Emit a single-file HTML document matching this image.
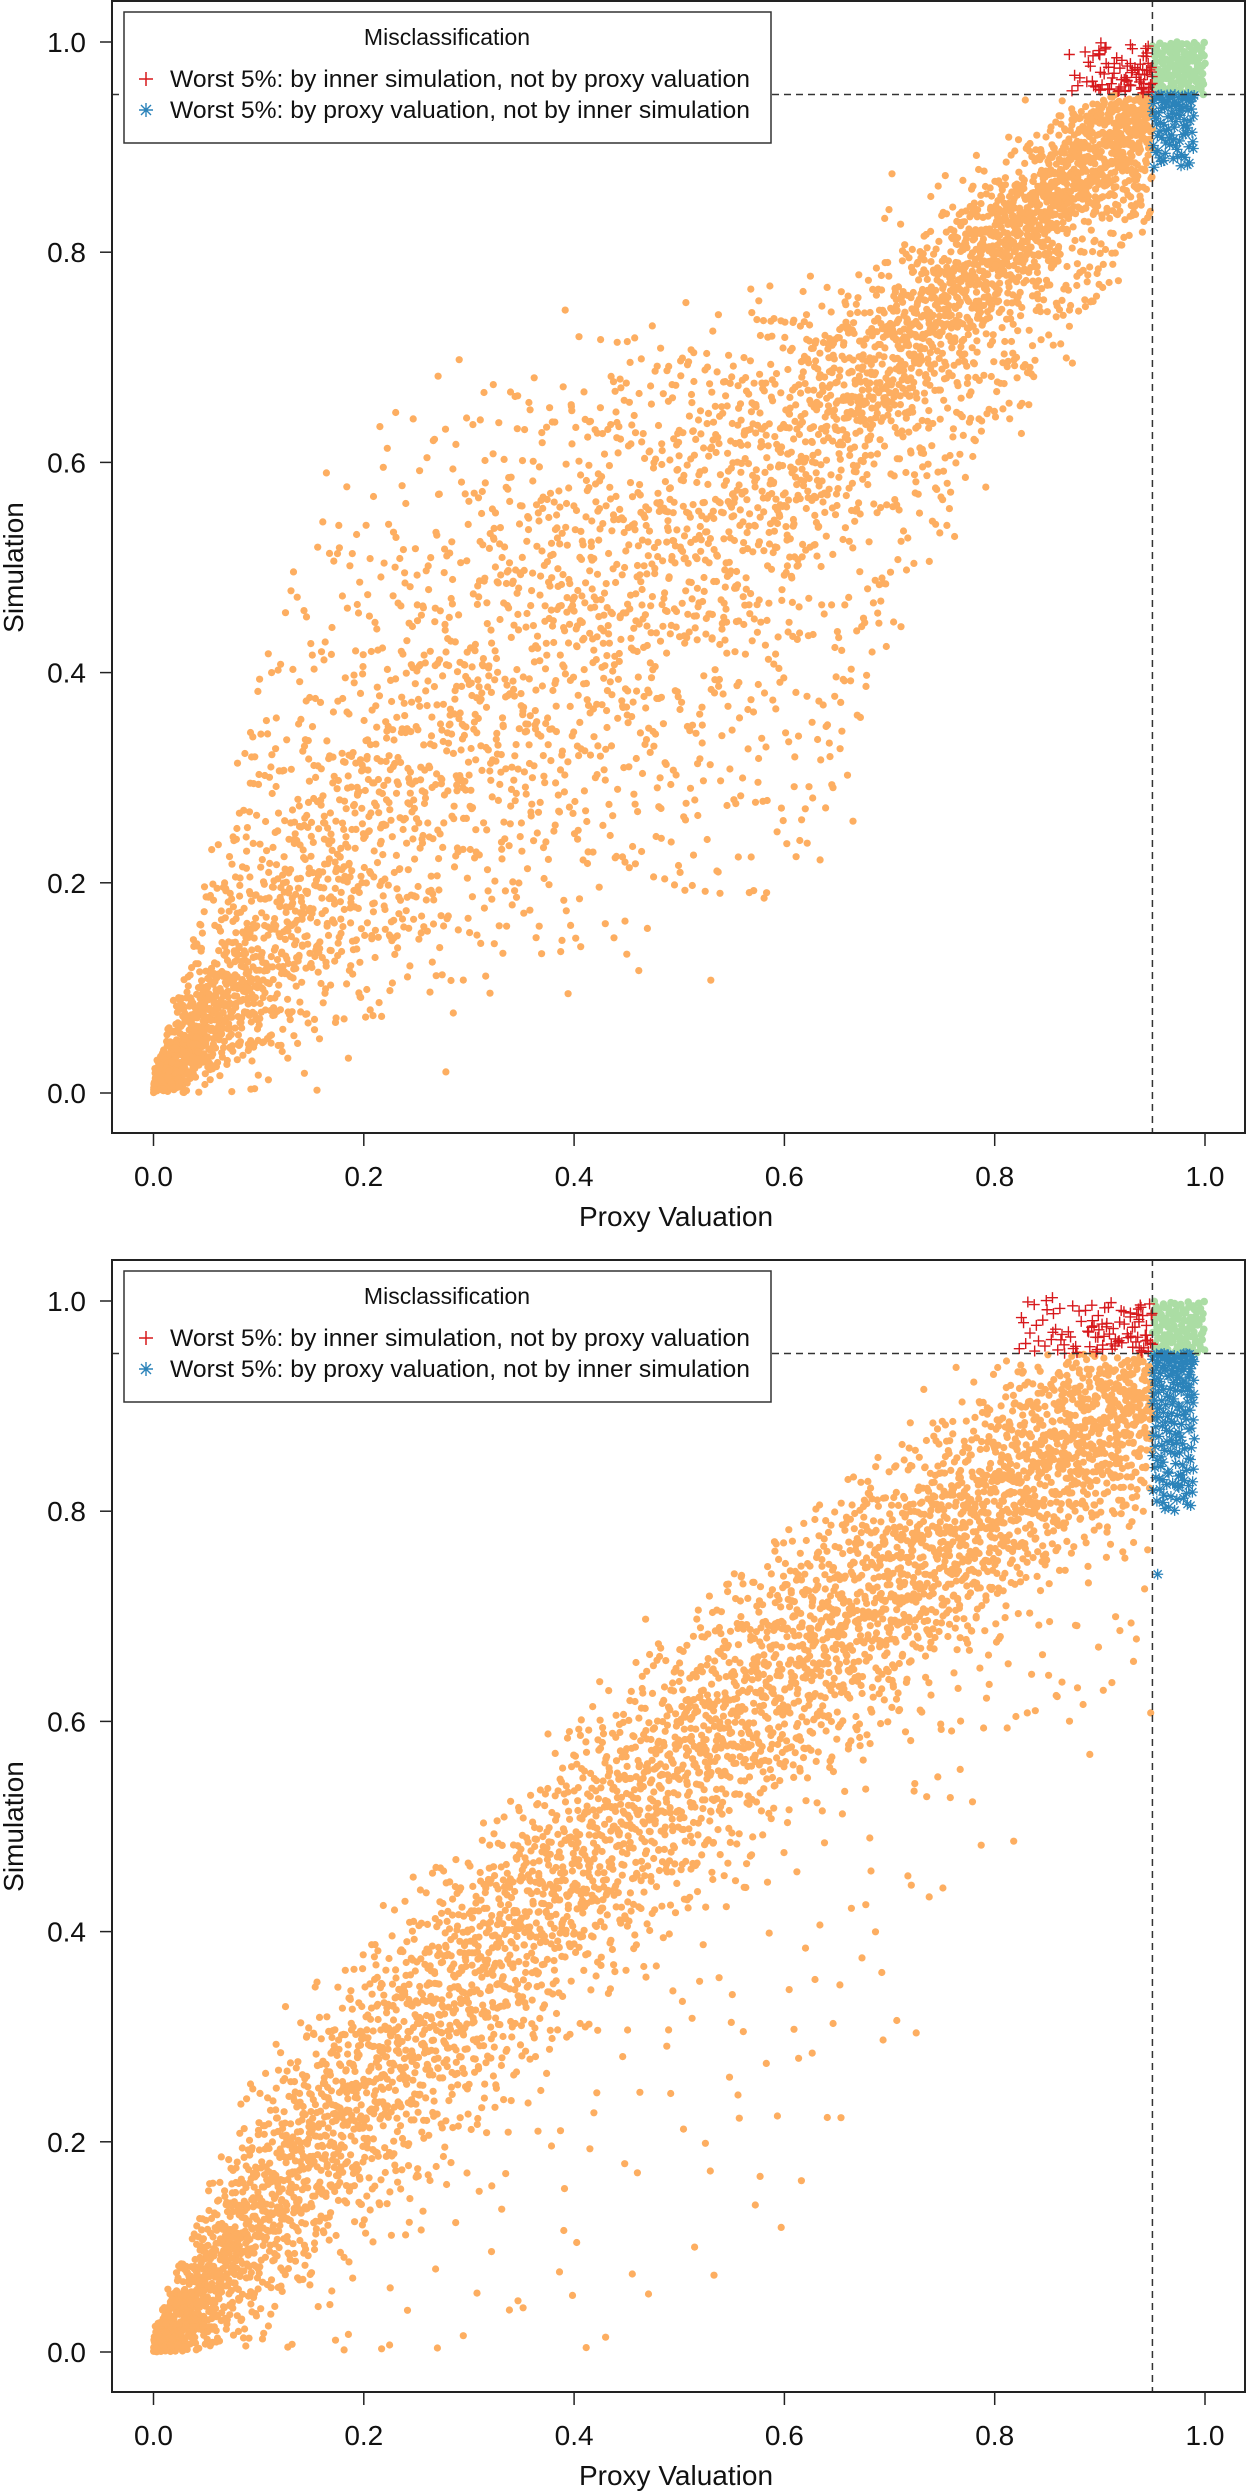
<!DOCTYPE html>
<html><head><meta charset="utf-8"><style>
html,body{margin:0;padding:0;background:#fff;}
svg{display:block;font-family:"Liberation Sans",Arial,sans-serif;}
</style></head><body>
<svg id="fig" width="1247" height="2492" viewBox="0 0 1247 2492" xmlns="http://www.w3.org/2000/svg">
<rect x="0" y="0" width="1247" height="2492" fill="#fff"/>
</svg>
<script>
// ---- Plot 1 data: knots along proxy valuation at 0,0.05,...,0.95 ----
const p1KnotLo  = [0,.01,.03,.05,.07,.09,.11,.12,.13,.15,.17,.19,.20,.25,.45,.55,.62,.70,.76,.84];
const p1KnotHi  = [.02,.18,.38,.52,.60,.64,.66,.68,.70,.71,.72,.73,.74,.76,.80,.84,.88,.92,.97,.99];
const p1KnotMid = [0,.06,.12,.18,.24,.30,.36,.41,.45,.49,.53,.57,.61,.65,.70,.75,.80,.85,.90,.93];
const p1KnotSd  = [.005,.03,.05,.07,.09,.10,.11,.12,.12,.12,.11,.10,.08,.06,.045,.04,.035,.03,.03,.03];
const p1BandN   = [420,330,250,220,200,190,190,190,200,200,210,220,240,260,300,330,360,380,380];
const p1TailX   = [[.95,1.0],[.95,.99],[.87,.95]];
const p1TailY   = [[.95,1.0],[.88,.95],[.95,1.0]];
const p1TailN   = [140,90,30];
const p1Extra   = [];
// ---- Plot 2 data ----
const p2KnotLo  = [0,0,0,0,.01,.02,.02,.03,.04,.05,.06,.08,.12,.20,.30,.40,.50,.55,.58,.60];
const p2KnotHi  = [.03,.15,.28,.35,.40,.45,.50,.55,.60,.65,.70,.74,.78,.82,.86,.90,.94,.97,.99,1.0];
const p2KnotMid = [0,.06,.13,.19,.25,.30,.35,.40,.46,.51,.56,.60,.65,.69,.73,.77,.81,.85,.88,.91];
const p2KnotSd  = [.01,.035,.05,.06,.065,.07,.07,.07,.07,.07,.07,.07,.07,.07,.065,.06,.06,.055,.05,.05];
const p2BandN   = [380,330,280,260,250,240,240,240,240,240,250,250,260,260,270,280,290,300,300];
const p2TailX   = [[.95,1.0],[.95,.99],[.82,.95]];
const p2TailY   = [[.95,1.0],[.80,.95],[.95,1.0]];
const p2TailN   = [110,170,50];
const p2Extra   = [[.955,.74],[.975,.825],[.96,.83]];
const xTicks = [0,0.2,0.4,0.6,0.8,1.0];
const yTicks = [0,0.2,0.4,0.6,0.8,1.0];
const xTickLabels = ["0.0","0.2","0.4","0.6","0.8","1.0"];
const yTickLabels = ["0.0","0.2","0.4","0.6","0.8","1.0"];
const threshold = 0.95;

const NS="http://www.w3.org/2000/svg";
const svg=document.getElementById('fig');
function mk(tag,attrs,parent){const e=document.createElementNS(NS,tag);for(const k in attrs)e.setAttribute(k,attrs[k]);(parent||svg).appendChild(e);return e;}
function halton(i,b){let f=1,r=0;while(i>0){f/=b;r+=f*(i%b);i=Math.floor(i/b);}return r;}
function interp(arr,b,t){return arr[b]+(arr[b+1]-arr[b])*t;}

function buildPoints(lo,hi,mid,sd,n,tx,ty,tn,extra,uniFrac){
  const pts=[];let k=1;
  for(let b=0;b<n.length;b++){
    for(let j=0;j<n[b];j++,k++){
      const t=halton(k,2);
      const x=b*0.05+0.05*t;
      const L=interp(lo,b,t),H=interp(hi,b,t),M=interp(mid,b,t),S=interp(sd,b,t);
      const a=halton(k,3),c=halton(k,5),m=halton(k,7);
      let y;
      if(m<uniFrac){
        const soft=Math.min(0.035,(H-L)*0.1)*Math.sqrt(-2*Math.log(Math.max(halton(k,13),1e-6)))*Math.cos(2*Math.PI*halton(k,17));
        y=L+(H-L)*a+soft;}
      else{y=M+S*Math.sqrt(-2*Math.log(Math.max(a,1e-6)))*Math.cos(2*Math.PI*c);
        if(y<L||y>H)y=M+(halton(k,11)-0.5)*Math.min(H-L,4*S);}
      if(y<0)y=Math.abs(y)*0.5;
      pts.push([x,y]);
    }
  }
  for(let t=0;t<tx.length;t++){
    for(let j=0;j<tn[t];j++,k++){
      const u=halton(k,3);
      const yy=t===1? ty[t][1]-(ty[t][1]-ty[t][0])*Math.pow(u,1.6) : ty[t][0]+(ty[t][1]-ty[t][0])*u;
      pts.push([tx[t][0]+(tx[t][1]-tx[t][0])*halton(k,2), yy]);
    }
  }
  extra.forEach(p=>pts.push(p));
  return pts;
}

function drawPlot(id,top,pts){
  const left=112,right=1245,bottom=top+1133;
  const x0=153.5,xs=1051.5,y0=top+1093,ys=1051;
  const X=v=>x0+v*xs, Y=v=>y0-v*ys;
  const g=mk('g',{});
  
  
  const clip=mk('clipPath',{id:id+'-clip'},g);
  mk('rect',{x:left,y:top,width:right-left,height:bottom-top},clip);
  const pg=mk('g',{'clip-path':'url(#'+id+'-clip)'},g);
  
  
  const orange=[],red=[],blue=[],green=[];
  pts.forEach(p=>{const px=p[0]>=threshold,py=p[1]>=threshold;
    if(!px&&!py)orange.push(p);else if(!px&&py)red.push(p);else if(px&&!py)blue.push(p);else green.push(p);});
  orange.forEach(p=>{mk('circle',{cx:X(p[0]).toFixed(1),cy:Y(p[1]).toFixed(1),r:3.6,fill:'#fdae61'},pg);});
  green.forEach(p=>{mk('circle',{cx:X(p[0]).toFixed(1),cy:Y(p[1]).toFixed(1),r:3.8,fill:'#abdda4'},pg);});
  let d='';
  red.forEach(p=>{const cx=X(p[0]),cy=Y(p[1]);d+=`M${cx-5.5},${cy}h11M${cx},${cy-5.5}v11`;});
  const rp=mk('path',{d:d,stroke:'#d7191c','stroke-width':1.4,fill:'none'},pg);
  
  
  d='';
  blue.forEach(p=>{const cx=X(p[0]),cy=Y(p[1]);d+=`M${cx-5.5},${cy}h11M${cx},${cy-5.5}v11M${cx-4},${cy-4}l8,8M${cx-4},${cy+4}l8,-8`;});
  const bp=mk('path',{d:d,stroke:'#2b83ba','stroke-width':1.3,fill:'none'},pg);
  
  
  const vl=mk('line',{x1:X(threshold),x2:X(threshold),y1:top,y2:bottom,stroke:'#333','stroke-width':1.5,'stroke-dasharray':'7,5'},g);
  
  
  const hl=mk('line',{x1:left,x2:right,y1:Y(threshold),y2:Y(threshold),stroke:'#333','stroke-width':1.5,'stroke-dasharray':'7,5'},g);
  
  
  const box=mk('rect',{x:left,y:top+1,width:right-left,height:bottom-top-1,fill:'none',stroke:'#222','stroke-width':2},g);
  
  
  xTicks.forEach((v,i)=>{
    mk('line',{x1:X(v),x2:X(v),y1:bottom,y2:bottom+13,stroke:'#222','stroke-width':1.5},g);
    const t=mk('text',{x:X(v),y:bottom+53,'font-size':28,'text-anchor':'middle',fill:'#111'},g);
    t.textContent=xTickLabels[i];
    
    
  });
  yTicks.forEach((v,i)=>{
    mk('line',{x1:left-12,x2:left,y1:Y(v),y2:Y(v),stroke:'#222','stroke-width':1.5},g);
    const t=mk('text',{x:86,y:Y(v)+10,'font-size':28,'text-anchor':'end',fill:'#111'},g);
    t.textContent=yTickLabels[i];
    
    
  });
  const xt=mk('text',{x:676,y:bottom+93,'font-size':28,'text-anchor':'middle',fill:'#111'},g);
  xt.textContent='Proxy Valuation';
  
  
  const cy=(Y(0)+Y(1))/2;
  const yt=mk('text',{x:0,y:0,'font-size':28,'text-anchor':'middle',fill:'#111',transform:`translate(23,${cy}) rotate(-90)`},g);
  yt.textContent='Simulation';
  
  
  const lg=mk('g',{},g);
  
  
  mk('rect',{x:124,y:top+12,width:647,height:131,fill:'#fff',stroke:'#333','stroke-width':1.5},lg);
  const lt=mk('text',{x:447,y:top+45,'font-size':23,'text-anchor':'middle',fill:'#111'},lg);
  lt.textContent='Misclassification';
  
  
  const e1y=top+79,e2y=top+110;
  mk('path',{d:`M${139},${e1y}h14M${146},${e1y-7}v14`,stroke:'#d7191c','stroke-width':1.5,fill:'none'},lg);
  mk('path',{d:`M${139},${e2y}h14M${146},${e2y-7}v14M${141},${e2y-5}l10,10M${141},${e2y+5}l10,-10`,stroke:'#2b83ba','stroke-width':1.4,fill:'none'},lg);
  const l1=mk('text',{x:170,y:e1y+8,'font-size':24,fill:'#111',textLength:580,lengthAdjust:'spacingAndGlyphs'},lg);
  l1.textContent='Worst 5%: by inner simulation, not by proxy valuation';
  
  
  const l2=mk('text',{x:170,y:e2y+8,'font-size':24,fill:'#111',textLength:580,lengthAdjust:'spacingAndGlyphs'},lg);
  l2.textContent='Worst 5%: by proxy valuation, not by inner simulation';
  
  
}

drawPlot('top-scatter-plot',0,buildPoints(p1KnotLo,p1KnotHi,p1KnotMid,p1KnotSd,p1BandN,p1TailX,p1TailY,p1TailN,p1Extra,0.35));
drawPlot('bottom-scatter-plot',1259,buildPoints(p2KnotLo,p2KnotHi,p2KnotMid,p2KnotSd,p2BandN,p2TailX,p2TailY,p2TailN,p2Extra,0.08));
</script>
</body></html>
